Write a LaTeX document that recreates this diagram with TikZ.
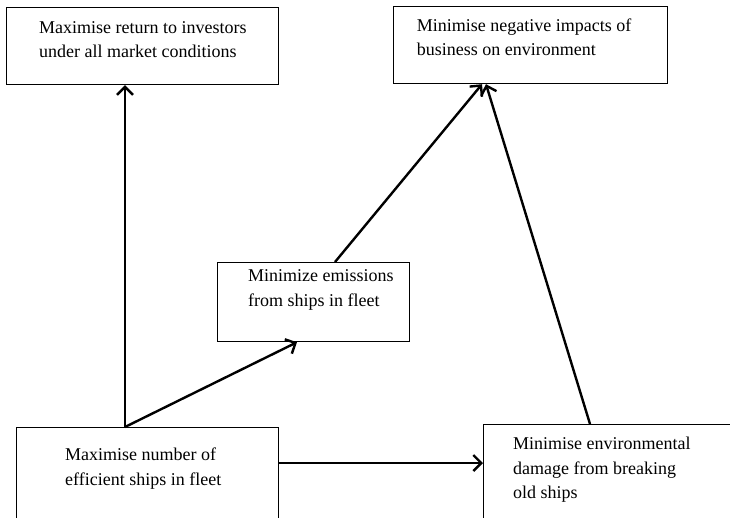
\documentclass[tikz,border=0pt]{standalone}
\usepackage{fontspec}
\setmainfont{Liberation Serif}
\usetikzlibrary{arrows.meta}
\begin{document}
\begin{tikzpicture}[x=1pt,y=-1pt,
  goalbox/.style={draw=black,line width=1.2pt,rectangle,anchor=north west,inner sep=0pt},
  goaltext/.style={anchor=north west,inner sep=0pt,align=left,font=\fontsize{18}{24.5}\selectfont},
  arr/.style={line width=2.4pt,-{Straight Barb[length=8pt,width=16pt,line width=2.4pt]}}]
\useasboundingbox (0,0) rectangle (730,517);
\clip (0,0) rectangle (730,517);
\node[goalbox,minimum width=272pt,minimum height=77pt] (b1) at (6,7) {};
\node[goalbox,minimum width=274pt,minimum height=77pt] (b2) at (393,6) {};
\node[goalbox,minimum width=192pt,minimum height=79pt] (b3) at (217,262) {};
\node[goalbox,minimum width=262pt,minimum height=110pt] (b4) at (16,427) {};
\node[goalbox,minimum width=260pt,minimum height=110pt] (b5) at (483,424) {};
\node[goaltext] (t1) at (39,21) {Maximise return to investors\\under all market conditions};
\node[goaltext] (t2) at (416.7,18.5) {Minimise negative impacts of\\business on environment};
\node[goaltext] (t3) at (248,269.7) {Minimize emissions\\from ships in fleet};
\node[goaltext] (t4) at (65,448) {Maximise number of\\efficient ships in fleet};
\node[goaltext] (t5) at (513,437) {Minimise environmental\\damage from breaking\\old ships};
\coordinate (fork) at ([xshift=109pt]b4.north west);
\draw[arr] (fork) -- (fork |- b1.south);
\draw[arr,line join=miter] (fork) -- ([xshift=80pt]b3.south west);
\draw[arr] ([xshift=118pt]b3.north west) -- ([xshift=89pt]b2.south west);
\draw[arr] ([xshift=107pt]b5.north west) -- ([xshift=93pt]b2.south west);
\draw[arr] ([yshift=-36pt]b4.north east) -- ([yshift=-39pt]b5.north west);
\end{tikzpicture}
\end{document}
